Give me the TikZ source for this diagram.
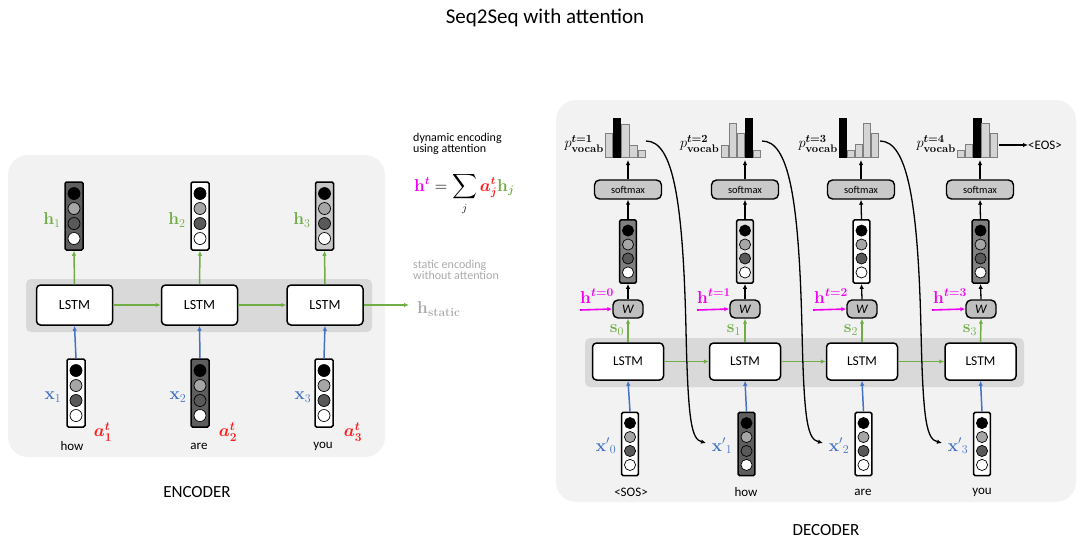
\documentclass[tikz,border=0pt]{standalone}
\usepackage{amsmath,bm}
\usepackage[no-math]{fontspec}
\setmainfont{Carlito}
\setsansfont{Carlito}
\usetikzlibrary{arrows.meta,calc}
\definecolor{panelgray}{HTML}{F2F2F2}
\definecolor{bandgray}{HTML}{D9D9D9}
\definecolor{cgreen}{HTML}{70AD47}
\definecolor{cblue}{HTML}{4472C4}
\definecolor{cmag}{HTML}{F000F0}
\definecolor{cred}{HTML}{FF1A1A}
\definecolor{cmid}{HTML}{A6A6A6}
\definecolor{cdark}{HTML}{595959}
\definecolor{cbox}{HTML}{5E5E5E}
\definecolor{cboxm}{HTML}{808080}
\definecolor{cboxl}{HTML}{C8C8C8}
\definecolor{cboxll}{HTML}{E2E2E2}
\definecolor{txtgray}{HTML}{AAAAAA}
\definecolor{barfill}{HTML}{D4D4D4}
\definecolor{barline}{HTML}{7F7F7F}
\definecolor{softfill}{HTML}{C9C9C9}
\definecolor{wfill}{HTML}{BFBFBF}
\newcommand{\fs}[1]{\fontsize{#1}{#1}\selectfont}
\newcommand{\myvec}[4]{%
  \node[vecbox, fill=#3, minimum width=#4*18pt, minimum height=#4*68pt] (#1) at (#2) {};
  \node[dot, minimum size=#4*12pt, fill=black] (#1-a) at ($(#1.center)+(0,-#4*22.5)$) {};
  \node[dot, minimum size=#4*12pt, fill=cmid] (#1-b) at ($(#1.center)+(0,-#4*7.5)$) {};
  \node[dot, minimum size=#4*12pt, fill=cdark] (#1-c) at ($(#1.center)+(0,#4*7.5)$) {};
  \node[dot, minimum size=#4*12pt, fill=white] (#1-d) at ($(#1.center)+(0,#4*22.5)$) {};
}
\tikzset{
  panel/.style={fill=panelgray, draw=none, rounded corners=20pt},
  band/.style={fill=bandgray, draw=none, rounded corners=5pt},
  lstm/.style={draw=black, line width=1.5pt, rounded corners=4pt, fill=white, minimum width=76pt, minimum height=40pt, inner sep=0pt, font=\fs{14}},
  dlstm/.style={lstm, minimum width=71pt, minimum height=37pt, font=\fs{13.5}},
  vecbox/.style={draw=black, line width=1.5pt, rounded corners=1.5pt, inner sep=0pt},
  dot/.style={circle, draw=black, line width=0.7pt, inner sep=0pt},
  softbox/.style={draw=black, line width=1.4pt, rounded corners=5pt, fill=softfill, minimum width=67pt, minimum height=19pt, inner sep=0pt, font=\fs{10.5}},
  wbox/.style={draw=black, line width=1.4pt, rounded corners=5pt, fill=wfill, minimum width=30pt, minimum height=18pt, inner sep=0pt, font=\fs{13}\itshape},
  tip/.style={-{Latex[length=5pt,width=4.5pt]}},
  garrow/.style={tip, draw=cgreen, line width=1.5pt},
  barrow/.style={tip, draw=cblue, line width=1.5pt},
  karrow/.style={tip, draw=black, line width=1.3pt},
  marrow/.style={tip, draw=cmag, line width=1.6pt},
  curvearrow/.style={tip, draw=black, line width=1.3pt},
  word/.style={font=\fs{13}, inner sep=0pt},
  mlab/.style={font=\fs{17}, inner sep=0pt},
  lbar/.style={fill=barfill, draw=barline, line width=0.7pt},
  bbar/.style={fill=black, draw=black, line width=0.7pt},
}
\begin{document}
\begin{tikzpicture}[x=1pt, y=-1pt]
\useasboundingbox (0,0) rectangle (1078,542);

% title
\node[font=\fs{21}] (title) at (545,18) {Seq2Seq with attention};

% ================= ENCODER =================
\fill[panel] (8,155) rectangle (385,457);
\fill[band] (26,279) rectangle (372,332);

\node[lstm] (L1) at (74.5,305) {LSTM};
\node[lstm] (L2) at (199.5,305) {LSTM};
\node[lstm] (L3) at (325,305) {LSTM};

\myvec{H1}{74,216}{cbox}{1}
\myvec{H2}{200,216}{white}{1}
\myvec{H3}{324.5,216}{cboxl}{1}

\myvec{X1}{76,393}{white}{1}
\myvec{X2}{200,393}{cbox}{1}
\myvec{X3}{324,393}{white}{1}

\draw[garrow] (L1.north) -- (H1.south);
\draw[garrow] (L2.north) -- (H2.south);
\draw[garrow] (L3.north) -- (H3.south);
\draw[barrow] (X1.north) -- (L1.south);
\draw[barrow] (X2.north) -- (L2.south);
\draw[barrow] (X3.north) -- (L3.south);
\draw[garrow] (L1.east) -- (L2.west);
\draw[garrow] (L2.east) -- (L3.west);
\coordinate (hs) at (409,305);
\draw[garrow] (L3.east) -- (hs);
\node[mlab, anchor=west, text=txtgray] (hst) at (417,309) {$\mathbf{h}_{\mathbf{static}}$};

\node[mlab, text=cgreen] (lh1) at (52,220) {$\mathbf{h}_1$};
\node[mlab, text=cgreen] (lh2) at (177,220) {$\mathbf{h}_2$};
\node[mlab, text=cgreen] (lh3) at (302,220) {$\mathbf{h}_3$};
\node[mlab, text=cblue] (lx1) at (53,397) {$\mathbf{x}_1$};
\node[mlab, text=cblue] (lx2) at (178,397) {$\mathbf{x}_2$};
\node[mlab, text=cblue] (lx3) at (303,397) {$\mathbf{x}_3$};
\node[mlab, text=cred] (la1) at (103,432) {$\boldsymbol{a_1^t}$};
\node[mlab, text=cred] (la2) at (228,432) {$\boldsymbol{a_2^t}$};
\node[mlab, text=cred] (la3) at (353,432) {$\boldsymbol{a_3^t}$};
\node[word] (w1) at (72,446) {how};
\node[word] (w2) at (199,446) {are};
\node[word] (w3) at (323,446) {you};

\node[font=\fs{17}] (enc) at (197,492) {ENCODER};

% annotations
\node[font=\fs{12}, anchor=north west, align=left, inner sep=0pt] (dyn) at (413,133) {dynamic encoding\\[-1pt]using attention};
\node[font=\fs{16}, anchor=west, inner sep=0pt] (eq) at (414,194) {$\color{cmag}\mathbf{h}^{\boldsymbol{t}}\color{black} = \displaystyle\sum_j \color{cred}\boldsymbol{a_j^t}\color{cgreen}\mathbf{h}_{\boldsymbol{j}}$};
\node[font=\fs{12}, anchor=north west, align=left, inner sep=0pt, text=txtgray] (stat) at (413,260) {static encoding\\[-1pt]without attention};

% ================= DECODER =================
\fill[panel] (556,100) rectangle (1076,502);
\fill[band] (585,338) rectangle (1024,387);

\node[dlstm] (D1) at (628,361.5) {LSTM};
\node[dlstm] (D2) at (745,361.5) {LSTM};
\node[dlstm] (D3) at (862,361.5) {LSTM};
\node[dlstm] (D4) at (980.5,361.5) {LSTM};

\myvec{DX1}{630,444}{white}{0.93}
\myvec{DX2}{746.5,444}{cbox}{0.93}
\myvec{DX3}{863.5,444}{white}{0.93}
\myvec{DX4}{982,444}{white}{0.93}

\node[wbox] (W1) at (628,309) {W};
\node[wbox] (W2) at (745,309) {W};
\node[wbox] (W3) at (862,309) {W};
\node[wbox] (W4) at (981,309) {W};

\myvec{O1}{628,251.5}{cboxm}{0.93}
\myvec{O2}{745,251.5}{cboxll}{0.93}
\myvec{O3}{861.5,251.5}{white}{0.93}
\myvec{O4}{980.5,251.5}{cboxm}{0.93}

\node[softbox] (S1) at (628,189.5) {softmax};
\node[softbox] (S2) at (745,189.5) {softmax};
\node[softbox] (S3) at (861,189.5) {softmax};
\node[softbox] (S4) at (980,189.5) {softmax};

% bar charts
\foreach \h/\s [count=\k from 0] in {24/lbar,39/bbar,33/lbar,12/lbar,7/lbar}
  \draw[\s] (605.5+\k*8.1,157) rectangle ++(7.2,-\h);
\foreach \h/\s [count=\k from 0] in {12/lbar,34/lbar,24/lbar,39/bbar,7/lbar}
  \draw[\s] (721+\k*8.1,157) rectangle ++(7.2,-\h);
\foreach \h/\s [count=\k from 0] in {39/bbar,7/lbar,13/lbar,34/lbar,24/lbar}
  \draw[\s] (839+\k*8.1,157) rectangle ++(7.2,-\h);
\foreach \h/\s [count=\k from 0] in {7/lbar,13/lbar,39/bbar,34/lbar,24/lbar}
  \draw[\s] (957.5+\k*8.1,157) rectangle ++(7.2,-\h);

\node[font=\fs{15}, anchor=east, inner sep=0pt] (P1) at (604,144) {$p^{\boldsymbol{t=1}}_{\mathbf{vocab}}$};
\node[font=\fs{15}, anchor=east, inner sep=0pt] (P2) at (719.5,144) {$p^{\boldsymbol{t=2}}_{\mathbf{vocab}}$};
\node[font=\fs{15}, anchor=east, inner sep=0pt] (P3) at (838,144) {$p^{\boldsymbol{t=3}}_{\mathbf{vocab}}$};
\node[font=\fs{15}, anchor=east, inner sep=0pt] (P4) at (956,144) {$p^{\boldsymbol{t=4}}_{\mathbf{vocab}}$};

\coordinate (pb1) at (628,160);
\coordinate (pb2) at (745,160);
\coordinate (pb3) at (861,160);
\coordinate (pb4) at (980,160);
\coordinate (pe1) at (646,141);
\coordinate (pe2) at (762,141);
\coordinate (pe3) at (880,141);
\coordinate (pe4) at (998.5,145);

% vertical arrows
\draw[karrow] (S1.north) -- (pb1);
\draw[karrow] (S2.north) -- (pb2);
\draw[karrow] (S3.north) -- (pb3);
\draw[karrow] (S4.north) -- (pb4);
\draw[karrow] (O1.north) -- (S1.south);
\draw[karrow] (O2.north) -- (S2.south);
\draw[karrow] (O3.north) -- (S3.south);
\draw[karrow] (O4.north) -- (S4.south);
\draw[karrow] (W1.north) -- (O1.south);
\draw[karrow] (W2.north) -- (O2.south);
\draw[karrow] (W3.north) -- (O3.south);
\draw[karrow] (W4.north) -- (O4.south);
\draw[garrow] (D1.north) -- (W1.south);
\draw[garrow] (D2.north) -- (W2.south);
\draw[garrow] (D3.north) -- (W3.south);
\draw[garrow] (D4.north) -- (W4.south);
\draw[barrow] (DX1.north) -- (D1.south);
\draw[barrow] (DX2.north) -- (D2.south);
\draw[barrow] (DX3.north) -- (D3.south);
\draw[barrow] (DX4.north) -- (D4.south);
\draw[garrow] (D1.east) -- (D2.west);
\draw[garrow] (D2.east) -- (D3.west);
\draw[garrow] (D3.east) -- (D4.west);

% magenta inputs
\coordinate (m1) at (580,310);
\coordinate (m2) at (697,310);
\coordinate (m3) at (813,310);
\coordinate (m4) at (932,310);
\draw[marrow] (m1) -- (W1.west);
\draw[marrow] (m2) -- (W2.west);
\draw[marrow] (m3) -- (W3.west);
\draw[marrow] (m4) -- (W4.west);
\node[mlab, text=cmag] (ht0) at (597,296) {$\mathbf{h}^{\boldsymbol{t=0}}$};
\node[mlab, text=cmag] (ht1) at (714,296) {$\mathbf{h}^{\boldsymbol{t=1}}$};
\node[mlab, text=cmag] (ht2) at (831,296) {$\mathbf{h}^{\boldsymbol{t=2}}$};
\node[mlab, text=cmag] (ht3) at (950,296) {$\mathbf{h}^{\boldsymbol{t=3}}$};
\node[mlab, text=cgreen] (s0) at (617,330) {$\mathbf{s}_0$};
\node[mlab, text=cgreen] (s1) at (734,330) {$\mathbf{s}_1$};
\node[mlab, text=cgreen] (s2) at (851,330) {$\mathbf{s}_2$};
\node[mlab, text=cgreen] (s3) at (970,330) {$\mathbf{s}_3$};

% input labels and words
\node[mlab, text=cblue] (xp0) at (606,446) {$\mathbf{x'}_0$};
\node[mlab, text=cblue] (xp1) at (722,446) {$\mathbf{x'}_1$};
\node[mlab, text=cblue] (xp2) at (839,446) {$\mathbf{x'}_2$};
\node[mlab, text=cblue] (xp3) at (958,446) {$\mathbf{x'}_3$};
\node[word] (dw0) at (631,492) {<SOS>};
\node[word] (dw1) at (746,492) {how};
\node[word] (dw2) at (863,492) {are};
\node[word] (dw3) at (982,492) {you};

% feedback curves
\coordinate (t1) at (706,443);
\coordinate (t2) at (823,443);
\coordinate (t3) at (942,443);
\draw[curvearrow] (pe1) .. controls (673,141) and (683,200) .. (686,330) .. controls (688,425) and (692,439) .. (t1);
\draw[curvearrow] (pe2) .. controls (789,141) and (799,200) .. (802,330) .. controls (804,425) and (808,439) .. (t2);
\draw[curvearrow] (pe3) .. controls (907,141) and (918,200) .. (921,330) .. controls (923,425) and (927,439) .. (t3);

% EOS
\node[word, anchor=west] (eos) at (1028,145) {<EOS>};
\draw[karrow] (pe4) -- (eos.west);

\node[font=\fs{17}] (dec) at (826,530) {DECODER};
\end{tikzpicture}
\end{document}
